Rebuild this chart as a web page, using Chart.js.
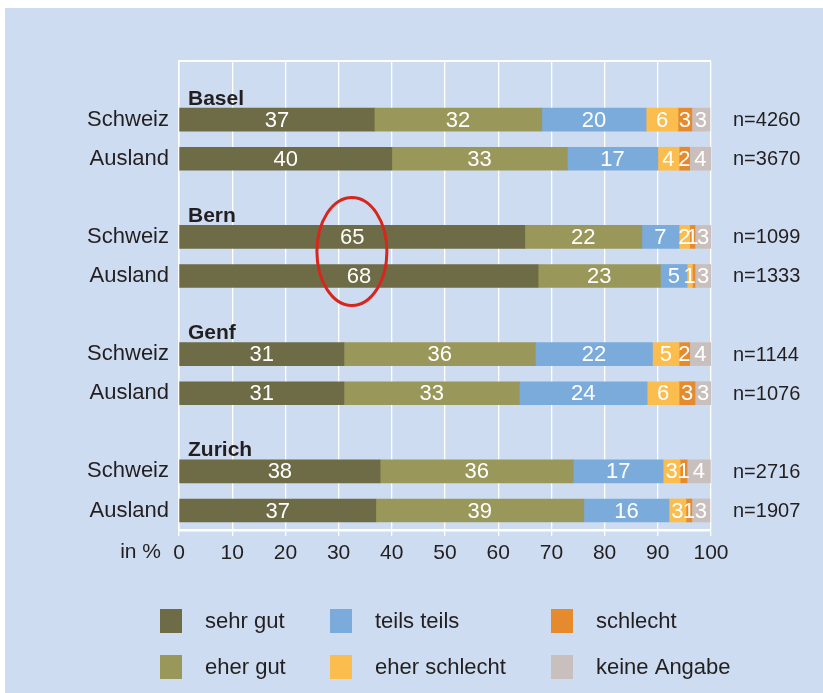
<!DOCTYPE html>
<html>
<head>
<meta charset="utf-8">
<script src="https://cdn.jsdelivr.net/npm/chart.js@4/dist/chart.umd.min.js"></script>
<style>
  html, body { margin: 0; padding: 0; background: #fff; }
  #panel { position: absolute; left: 5px; top: 8px; right: 0; bottom: 0; background: #cddcf0; }
  #wrap { position: absolute; left: 0; top: 0; width: 823px; height: 693px; }
</style>
</head>
<body>
<div id="panel"></div>
<div id="wrap"><canvas id="chart" width="823" height="693"></canvas></div>
<script>
// rows: a header slot per city, then Schweiz / Ausland
const categories = ["", "Schweiz", "Ausland", "", "Schweiz", "Ausland", "", "Schweiz", "Ausland", "", "Schweiz", "Ausland"];
const cities = ["Basel", "Bern", "Genf", "Zurich"];
const sampleSizes = ["n=4260", "n=3670", "n=1099", "n=1333", "n=1144", "n=1076", "n=2716", "n=1907"];

// order: Basel CH, Basel Ausl, Bern CH, Bern Ausl, Genf CH, Genf Ausl, Zurich CH, Zurich Ausl
const sehrGut = [36.7, 40, 65, 67.5, 31, 31, 37.8, 37];
const eherGut = [31.5, 33, 22, 23, 36, 33, 36.3, 39.1];
const teilsTeils = [19.6, 17, 7, 5, 22, 24, 16.9, 16];
const eherSchlecht = [6, 4, 2, 1, 5, 6, 3.2, 3.2];
const schlecht = [2.6, 2, 1, 0.5, 2, 3, 1.3, 1.1];
const keineAngabe = [3.4, 4, 3, 3, 4, 3, 4.4, 3.4];

const xTicks = [0, 10, 20, 30, 40, 50, 60, 70, 80, 90, 100];

const FONT = "'Liberation Sans', Arial, Helvetica, sans-serif";
const TEXT = "#231f20";

// put null in the header rows
function expand(arr) {
  const out = [];
  for (let g = 0; g < cities.length; g++) {
    out.push(null, arr[g * 2], arr[g * 2 + 1]);
  }
  return out;
}

const extras = {
  id: "extras",
  afterDatasetsDraw(chart) {
    const ctx = chart.ctx;
    const area = chart.chartArea;
    const x = chart.scales.x;
    const y = chart.scales.y;
    ctx.save();

    // top frame line
    ctx.strokeStyle = "#fff";
    ctx.lineWidth = 2;
    ctx.beginPath();
    ctx.moveTo(area.left, area.top);
    ctx.lineTo(area.right, area.top);
    ctx.stroke();

    // values inside the bars
    ctx.fillStyle = "#fff";
    ctx.font = "22px " + FONT;
    ctx.textAlign = "center";
    ctx.textBaseline = "middle";
    chart.data.datasets.forEach((ds, di) => {
      chart.getDatasetMeta(di).data.forEach((el, i) => {
        const v = ds.data[i];
        if (v == null || v < 0.95) return;
        ctx.fillText(String(Math.round(v)), (el.x + el.base) / 2, el.y + 1);
      });
    });

    // city headers
    ctx.fillStyle = TEXT;
    ctx.font = "bold 21px " + FONT;
    ctx.textAlign = "left";
    ctx.textBaseline = "alphabetic";
    cities.forEach((c, g) => {
      ctx.fillText(c, area.left + 9, y.getPixelForValue(g * 3) + 24);
    });

    // sample sizes
    ctx.font = "20px " + FONT;
    ctx.textBaseline = "middle";
    sampleSizes.forEach((n, k) => {
      const row = Math.floor(k / 2) * 3 + 1 + (k % 2);
      ctx.fillText(n, 733, y.getPixelForValue(row) + 1);
    });

    // axis unit
    ctx.font = "21px " + FONT;
    ctx.textAlign = "right";
    ctx.fillText("in %", 161, 552);

    // red ellipse around Bern sehr gut
    const cx = x.getPixelForValue(32.5);
    const cy = (y.getPixelForValue(4) + y.getPixelForValue(5)) / 2 - 5;
    ctx.strokeStyle = "#d7261b";
    ctx.lineWidth = 3;
    ctx.beginPath();
    ctx.ellipse(cx, cy, 35, 54, 0, 0, Math.PI * 2);
    ctx.stroke();

    // legend, 3 columns x 2 rows
    const colX = [160, 330, 551];
    const rowY = [609, 655];
    ctx.font = "22px " + FONT;
    ctx.textAlign = "left";
    chart.data.datasets.forEach((ds, di) => {
      const sx = colX[Math.floor(di / 2)];
      const sy = rowY[di % 2];
      ctx.fillStyle = ds.backgroundColor;
      ctx.fillRect(sx, sy, 22, 24);
      ctx.fillStyle = TEXT;
      ctx.fillText(ds.label, sx + 45, sy + 13);
    });

    ctx.restore();
  }
};

new Chart(document.getElementById("chart"), {
  type: "bar",
  data: {
    labels: categories,
    datasets: [
      { label: "sehr gut", data: expand(sehrGut), backgroundColor: "#6e6b47" },
      { label: "eher gut", data: expand(eherGut), backgroundColor: "#9a975b" },
      { label: "teils teils", data: expand(teilsTeils), backgroundColor: "#7aabdb" },
      { label: "eher schlecht", data: expand(eherSchlecht), backgroundColor: "#fbbd4d" },
      { label: "schlecht", data: expand(schlecht), backgroundColor: "#e68a2e" },
      { label: "keine Angabe", data: expand(keineAngabe), backgroundColor: "#c9c0bd" }
    ]
  },
  options: {
    indexAxis: "y",
    responsive: false,
    animation: false,
    devicePixelRatio: 1,
    datasets: { bar: { barThickness: 23 } },
    layout: { padding: { left: 0, top: 61, right: 112, bottom: 123 } },
    plugins: {
      legend: { display: false },
      tooltip: { enabled: false }
    },
    scales: {
      x: {
        stacked: true,
        min: 0,
        max: 100,
        afterBuildTicks: (scale) => { scale.ticks = xTicks.map(v => ({ value: v })); },
        afterFit: (scale) => { scale.height = 40; },
        grid: { color: "#fff", lineWidth: 1.3, drawTicks: true, tickLength: 6, tickColor: "#fff" },
        border: { color: "#fff", width: 2.5 },
        ticks: { color: TEXT, font: { family: FONT, size: 21 }, padding: 5, maxRotation: 0 }
      },
      y: {
        stacked: true,
        afterFit: (scale) => { scale.width = 179; },
        grid: { display: false, drawTicks: false },
        border: { color: "#fff", width: 1.5 },
        ticks: { color: TEXT, font: { family: FONT, size: 22 }, padding: 10, autoSkip: false }
      }
    }
  },
  plugins: [extras]
});
</script>
</body>
</html>
